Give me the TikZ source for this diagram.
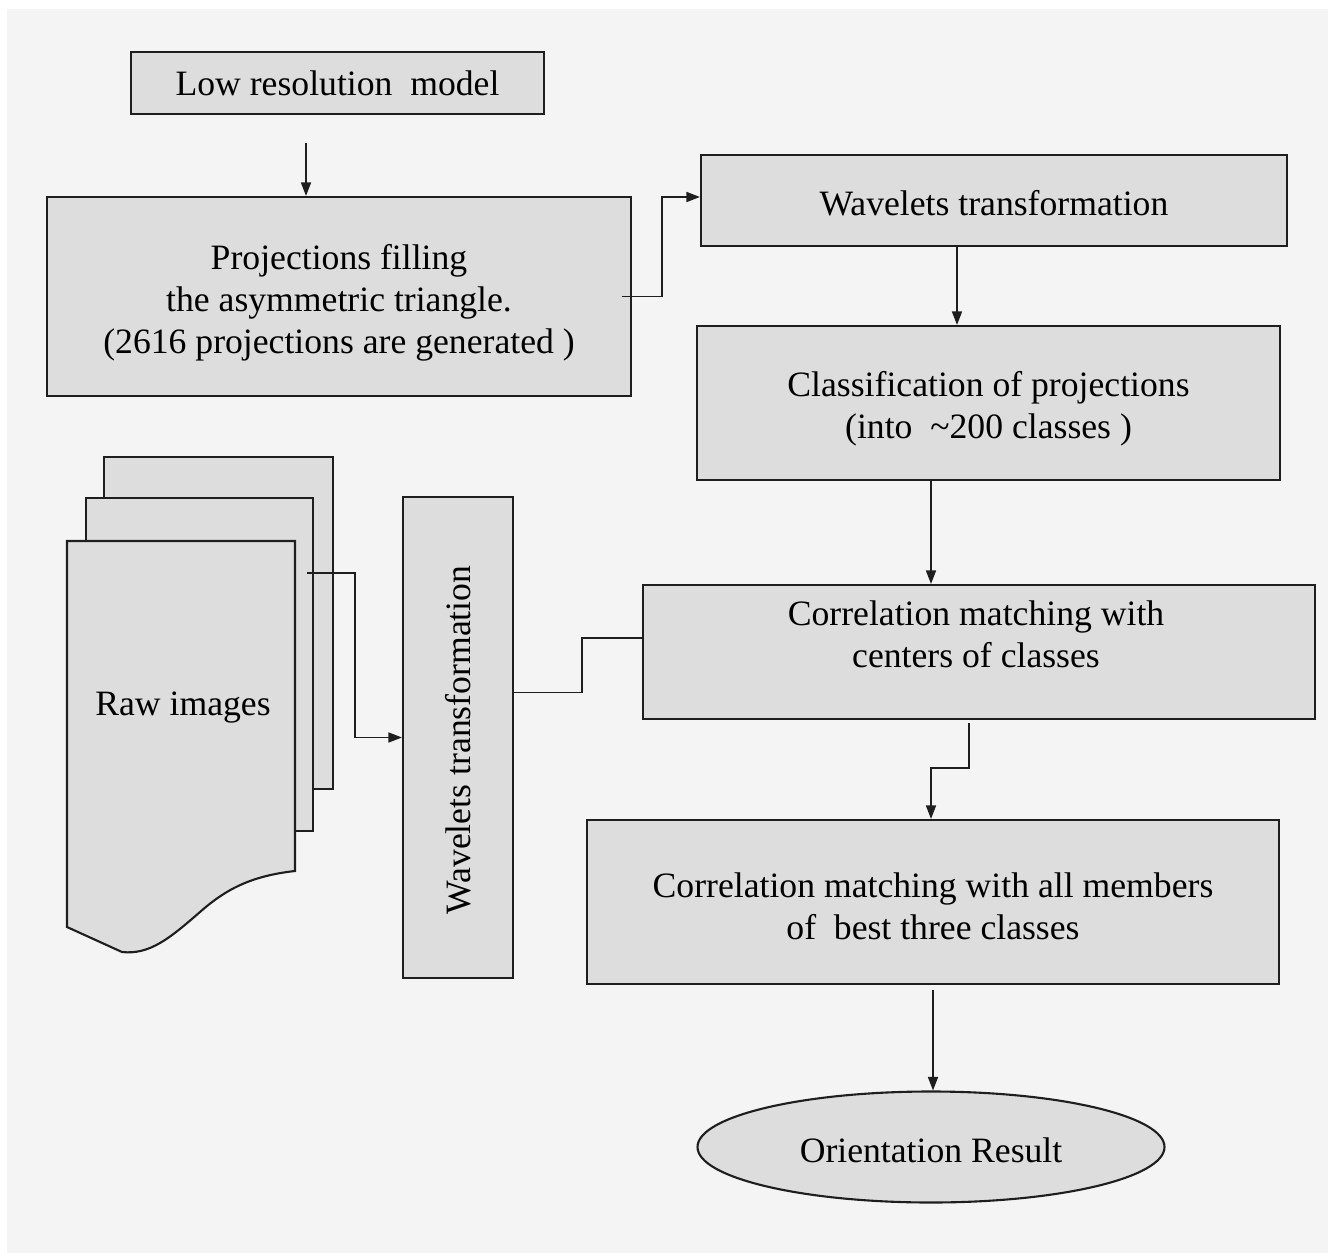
\documentclass[tikz,border=0pt]{standalone}
\usepackage{fontspec}
\setmainfont{Liberation Serif}
\usetikzlibrary{shapes.geometric,arrows.meta}
\definecolor{boxgray}{HTML}{DDDDDD}
\definecolor{bggray}{HTML}{F4F4F4}
\definecolor{edge}{HTML}{1E1E1E}
\begin{document}
\begin{tikzpicture}[x=0.02cm,y=-0.02cm,
  txt/.style={align=center, font=\fontsize{20.3}{24}\selectfont},
  box/.style={txt, draw=edge, line width=1.2pt, fill=boxgray, inner sep=0pt},
  sheet/.style={draw=edge, line width=1.2pt, fill=boxgray},
  arr/.style={-{Triangle[length=0.27cm,width=0.2cm]}, line width=0.9pt, draw=edge},
  wire/.style={line width=0.9pt, draw=edge}]
\def\px{0.02cm}
\useasboundingbox (0,0) rectangle (1328,1253);
\fill [bggray] (7,9) rectangle (1328,1253);
% top chain
\node [box, minimum width=413*\px, minimum height=62*\px] (lowres) at (337.5,83) {Low resolution~ model};
\node [box, minimum width=584*\px, minimum height=199*\px] (proj) at (339,296.5) {};
\node [txt, yshift=-0.12cm] (projtext) at (proj) {Projections filling\\the asymmetric triangle.\\(2616 projections are generated )};
\node [box, minimum width=586*\px, minimum height=91*\px] (wav) at (994,200.5) {};
\node [txt, yshift=-0.06cm] (wavtext) at (wav) {Wavelets transformation};
\node [box, minimum width=583*\px, minimum height=154*\px] (cls) at (988.5,403) {};
\node [txt, yshift=-0.12cm] (clstext) at (cls) {Classification of projections\\(into~ \textasciitilde200 classes )};
\node [box, minimum width=672*\px, minimum height=134*\px] (corrc) at (979,652) {};
\node [txt] (corrctext) at (976,634) {Correlation matching with\\centers of classes};
\node [box, minimum width=692*\px, minimum height=164*\px] (corrall) at (933,902) {};
\node [txt, yshift=-0.08cm] (corralltext) at (corrall) {Correlation matching with all members\\of~ best three classes};
\node [box, ellipse, minimum width=467*\px, minimum height=111*\px] (result) at (931,1147) {};
\node [txt, yshift=-0.06cm] (resulttext) at (result) {Orientation Result};
% raw images
\draw [sheet] (104,457) rectangle (333,789);
\draw [sheet] (86,498) rectangle (313,831);
\draw [sheet] (67,541) -- (295,541) -- (295,871) .. controls (250,876) and (225,890) .. (200,912) .. controls (170,938) and (150,955) .. (122,952) -- (67,927) -- cycle;
\node [txt] (raw) at (183,708) {Raw images};
\node [box, minimum width=110*\px, minimum height=481*\px] (vwav) at (458,737.5) {};
\node [txt, rotate=90] (vwavtext) at (458,740) {Wavelets transformation};
% connectors
\coordinate (a1) at (306,143);
\coordinate (a3) at (957,0);
\coordinate (a4) at (931,0);
\coordinate (a5) at (969,723);
\coordinate (a6) at (933,990);
\coordinate (a7) at (307,573);
\draw [arr] (a1) -- (a1 |- proj.north);
\draw [arr] ([xshift=-0.2cm]proj.east) -- ++(40,0) |- ([yshift=0.07cm]wav.west);
\draw [arr] (wav.south -| a3) -- (cls.north -| a3);
\draw [arr] (cls.south -| a4) -- (corrc.north -| a4);
\draw [arr] (a5) -- ++(0,45) -| (corrall.north -| a4);
\draw [arr] (a6) -- (a6 |- result.north);
\draw [arr] (a7) -- ++(48,0) |- (vwav.west);
\draw [wire] ([yshift=0.9cm]vwav.east) -- ++(68,0) |- ([yshift=0.28cm]corrc.west);
\end{tikzpicture}
\end{document}
